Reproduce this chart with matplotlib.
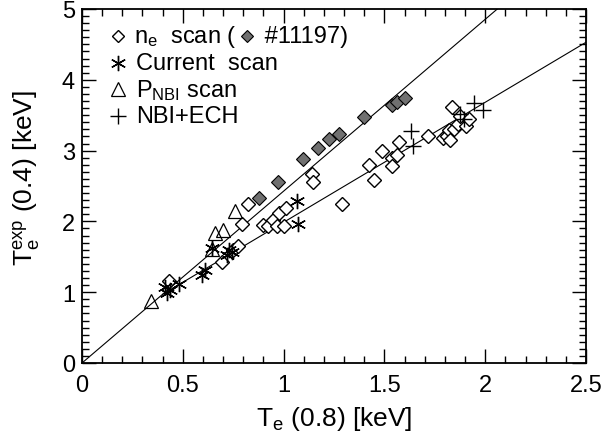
import numpy as np
import matplotlib.pyplot as plt
from matplotlib.lines import Line2D
from matplotlib.offsetbox import (AnchoredOffsetbox, DrawingArea, HPacker,
                                  TextArea, VPacker)

plt.rcParams['font.family'] = ['Liberation Sans', 'DejaVu Sans']
plt.rcParams['mathtext.fontset'] = 'custom'
plt.rcParams['mathtext.rm'] = 'Liberation Sans'
plt.rcParams['mathtext.it'] = 'Liberation Sans'

# n_e scan (open diamonds)
ne_x = [0.432, 0.693, 0.751, 0.775, 0.795, 0.825, 0.896, 0.924, 0.949, 0.966,
        0.979, 1.002, 1.012, 1.139, 1.147, 1.288, 1.424, 1.450, 1.486, 1.536,
        1.540, 1.564, 1.574, 1.715, 1.792, 1.809, 1.822, 1.825, 1.834, 1.845,
        1.867, 1.875, 1.905, 1.921]
ne_y = [1.16, 1.42, 1.60, 1.65, 1.96, 2.25, 1.95, 1.94, 2.02, 1.93,
        2.12, 1.93, 2.19, 2.67, 2.56, 2.25, 2.80, 2.58, 3.00, 2.90,
        2.78, 2.94, 3.12, 3.21, 3.18, 3.20, 3.29, 3.15, 3.61, 3.31,
        3.38, 3.49, 3.35, 3.44]

# shot #11197 (filled diamonds)
sh_x = [0.878, 0.971, 1.098, 1.172, 1.227, 1.273, 1.400, 1.536, 1.564, 1.602]
sh_y = [2.33, 2.55, 2.88, 3.04, 3.16, 3.24, 3.47, 3.65, 3.69, 3.74]

# current scan
ip_x = [0.412, 0.423, 0.435, 0.481, 0.594, 0.610, 0.643, 0.718, 0.729, 0.745,
        1.065, 1.070]
ip_y = [1.07, 0.99, 1.03, 1.11, 1.25, 1.31, 1.62, 1.53, 1.60, 1.57,
        2.29, 1.96]

# P_NBI scan
pn_x = [0.342, 0.646, 0.660, 0.700, 0.759]
pn_y = [0.88, 1.61, 1.83, 1.88, 2.15]

# NBI+ECH
ec_x = [1.632, 1.640, 1.875, 1.896, 1.944, 1.988]
ec_y = [3.28, 3.07, 3.51, 3.44, 3.67, 3.57]

# fitted lines
fit1_x = [0.0, 2.06]
fit1_y = [0.0, 5.0]
fit2_x = [0.40, 2.50]
fit2_y = [0.97, 4.53]

fig = plt.figure(figsize=(6.02, 4.39), dpi=100)
ax = fig.add_axes([82/602, 1-364/439, 504/602, 354/439])

ax.plot(fit1_x, fit1_y, color='black', lw=0.8)
ax.plot(fit2_x, fit2_y, color='black', lw=0.8)

open_d = dict(ms=7, mfc='white', mec='black', mew=1.0)
fill_d = dict(ms=7, mfc='#707070', mec='black', mew=0.8)
star = dict(ms=11, color='black', mew=1.0)
tri = dict(ms=10, mfc='none', mec='black', mew=0.9)
plus = dict(ms=11, color='black', mew=1.0)

ax.plot(ne_x, ne_y, 'D', ls='none', **open_d)
ax.plot(sh_x, sh_y, 'D', ls='none', **fill_d)
ax.plot(ip_x, ip_y, marker=(6, 2, 0), ls='none', **star)
ax.plot(pn_x, pn_y, '^', ls='none', **tri)
ax.plot(ec_x, ec_y, '+', ls='none', **plus)

ax.set_xlim(0, 2.5)
ax.set_ylim(0, 5)
ax.set_xticks(np.arange(0, 2.51, 0.5))
ax.set_xticklabels(['0', '0.5', '1', '1.5', '2', '2.5'])
ax.set_xticks(np.arange(0, 2.51, 0.1), minor=True)
ax.set_yticks(np.arange(0, 5.1, 1))
ax.set_yticks(np.arange(0, 5.01, 0.1), minor=True)
ax.tick_params(which='both', direction='in', top=True, right=True,
               labelsize=17, width=1.0)
ax.tick_params(axis='x', which='major', length=10, pad=8)
ax.tick_params(axis='y', which='major', length=10, pad=5)
ax.tick_params(which='minor', length=5)
for s in ax.spines.values():
    s.set_linewidth(1.3)

ax.set_xlabel(r'T$_\mathregular{e}$ (0.8) [keV]', fontsize=19, labelpad=6)
ax.set_ylabel(r'T$_\mathregular{e}^\mathregular{exp}$ (0.4) [keV]',
              fontsize=19)
ax.yaxis.set_label_coords(-0.08, 0.525)


# legend built from marker boxes and text
def sym(marker, w=18, **kw):
    da = DrawingArea(w, 14, 0, 0)
    da.add_artist(Line2D([w / 2], [7], marker=marker, ls='none', **kw))
    return da


fs = 17
rows = [
    HPacker(children=[sym('D', ms=6, mfc='white', mec='black', mew=1.0),
                      TextArea(r'n$_\mathregular{e}$  scan (',
                               textprops=dict(size=fs)),
                      sym('D', w=9, ms=6, mfc='#707070', mec='black', mew=0.8),
                      TextArea(' #11197)', textprops=dict(size=fs))],
            pad=0, sep=3, align='center'),
    HPacker(children=[sym((6, 2, 0), **star),
                      TextArea('Current  scan', textprops=dict(size=fs))],
            pad=0, sep=4, align='center'),
    HPacker(children=[sym('^', **tri),
                      TextArea(r'P$_\mathregular{NBI}$ scan',
                               textprops=dict(size=fs))],
            pad=0, sep=4, align='center'),
    HPacker(children=[sym('+', **plus),
                      TextArea('NBI+ECH', textprops=dict(size=fs))],
            pad=0, sep=4, align='center'),
]
box = VPacker(children=rows, pad=0, sep=2, align='left')
leg = AnchoredOffsetbox(loc='upper left', child=box, frameon=False,
                        bbox_to_anchor=(0.035, 0.975),
                        bbox_transform=ax.transAxes, borderpad=0)
ax.add_artist(leg)

fig.savefig('out.png', dpi=100)
